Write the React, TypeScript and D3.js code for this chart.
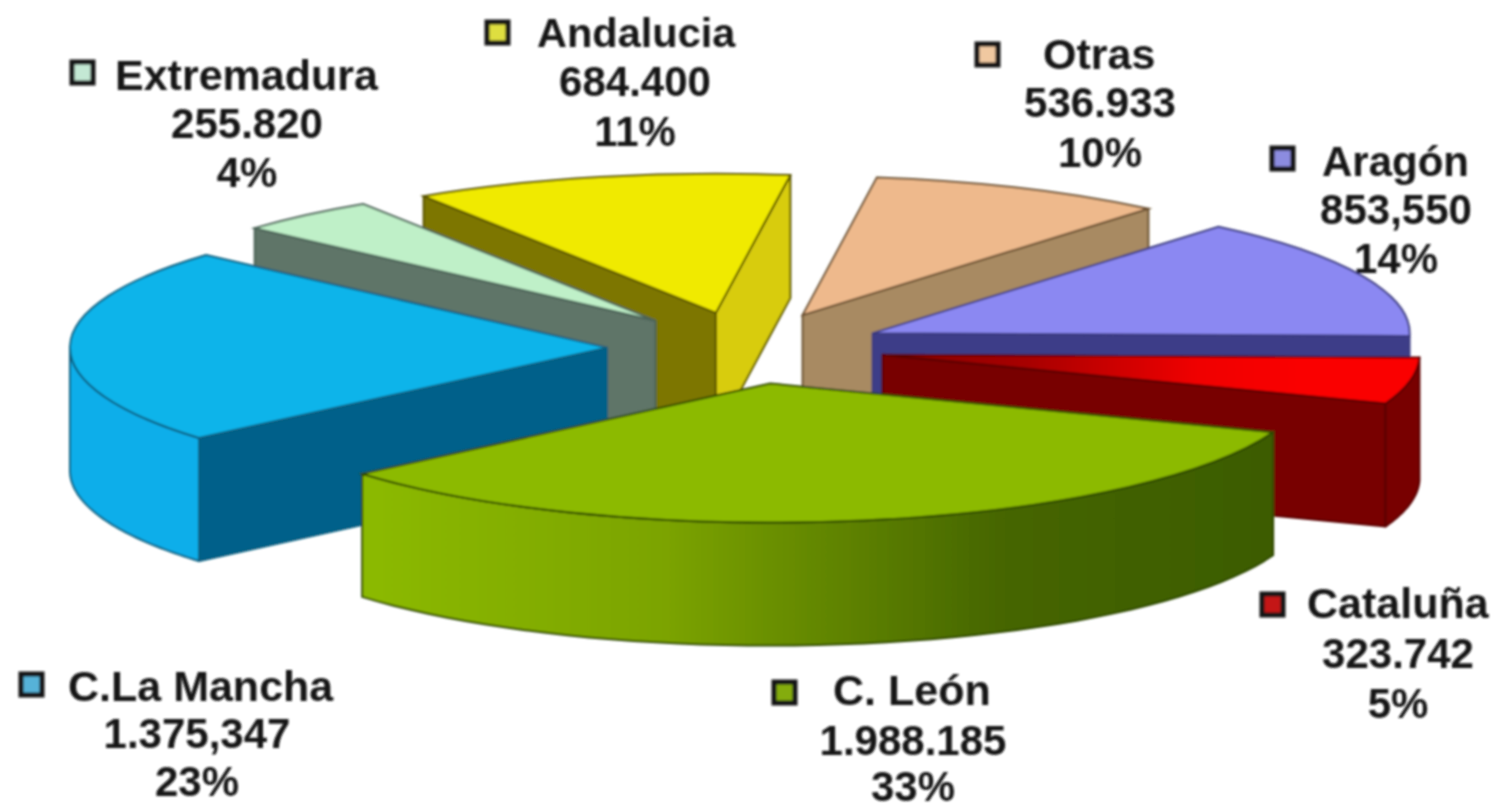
import React from 'react';
import * as d3 from 'd3';

// order runs clockwise from 3 o'clock, same as the pie
const regions = ['Cataluña', 'C. León', 'C.La Mancha', 'Extremadura', 'Andalucia', 'Otras', 'Aragón'];
const values = [323742, 1988185, 1375347, 255820, 684400, 536933, 853550];
const valueLabels = ['323.742', '1.988.185', '1.375,347', '255.820', '684.400', '536.933', '853,550'];
const percentLabels = ['5%', '33%', '23%', '4%', '11%', '10%', '14%'];

const topColors = ['url(#cataTop)', '#8cba00', '#08b4ea', '#bff0c8', '#f0ea00', '#eeb98c', '#8b88f2'];
const rimColors = ['#780000', 'url(#leonRim)', '#10aeea', '#5f7468', '#d8cc10', '#a88a62', '#3c3c88'];
const sideColors = ['#780000', '#4a6a00', '#04618a', '#5f7468', '#7d7600', '#a88a62', '#3c3c88'];
const edgeColors = ['#5a0000', '#2f4a00', '#0a5f80', '#4c6458', '#5a5400', '#6a5030', '#3a3a80'];
const keyColors = ['#c41818', '#84ac10', '#56b2d8', '#c4e8d4', '#dede40', '#f0c8a0', '#8c8ce0'];

// painter's order, back to front
const drawOrder = [5, 4, 6, 3, 0, 2, 1];

const labelLayout = [
  { key: [1260, 592], name: [1307, 618], size: 43, mid: 1398, lines: [668, 718] },
  { key: [772, 680], name: [833, 705], size: 43, mid: 913, lines: [755, 801] },
  { key: [19, 672], name: [68, 701], size: 43, mid: 197, lines: [748, 796] },
  { key: [70, 60], name: [115, 90], size: 43, mid: 247, lines: [138, 187] },
  { key: [485, 20], name: [537, 47], size: 41.5, mid: 635, lines: [96, 146] },
  { key: [975, 42], name: [1043, 69], size: 43, mid: 1100, lines: [117, 167] },
  { key: [1270, 146], name: [1322, 176], size: 42, mid: 1396, lines: [224, 273] },
];

const width = 1494;
const height = 804;
const cx = 746;
const cy = 348;
const rx = 537;
const tilt = 0.259;
const depth = 123;
const explode = 139;
const turn = 0.02; // the pie sits a touch past 3 o'clock

const x = d3.scaleLinear().domain([-1, 1]).range([-rx, rx]);
const y = d3.scaleLinear().domain([-1, 1]).range([rx * tilt, -rx * tilt]);

const pie = d3.pie<number>().sort(null).startAngle(Math.PI / 2 + turn).endAngle(Math.PI * 2.5 + turn);
const arc = d3.arc<d3.PieArcDatum<number>>().innerRadius(0).outerRadius(rx);
const line = d3.line<[number, number]>().curve(d3.curveLinear);

// d3 angle (cw from 12) to ground direction
const dir = (a: number): [number, number] => [Math.sin(a), Math.cos(a)];

function Slice({ d, i }: { d: d3.PieArcDatum<number>; i: number }) {
  const mid = (d.startAngle + d.endAngle) / 2;
  const [mx, my] = dir(mid);
  const ox = cx + (x(mx) * explode) / rx;
  const oy = cy + (y(my) * explode) / rx;
  const rim = (a: number, down = 0): [number, number] => [ox + x(dir(a)[0]), oy + y(dir(a)[1]) + down];
  const edge = { stroke: edgeColors[i], strokeWidth: 2, strokeLinejoin: 'round' as const };

  // a radial wall shows only when its face turns towards the viewer
  const walls: [number, boolean][] = [
    [d.startAngle, Math.sin(d.startAngle) < 0],
    [d.endAngle, Math.sin(d.endAngle) > 0],
  ];
  const sides: React.ReactNode[] = [];
  walls.forEach(([a, show], w) => {
    if (!show) return;
    sides.push(
      <path
        key={w}
        d={line([[ox, oy], rim(a), rim(a, depth), [ox, oy + depth]]) + 'Z'}
        fill={i === 4 && w === 1 ? rimColors[i] : sideColors[i]}
        {...edge}
      />
    );
  });

  // outer wall: only the part below the horizontal axis of the ellipse
  const from = Math.max(d.startAngle, Math.PI / 2);
  const to = Math.min(d.endAngle, (Math.PI * 3) / 2);
  const angles = from < to ? d3.range(0, 49).map((k) => from + ((to - from) * k) / 48) : [];
  const rimPath =
    angles.length > 0
      ? line([...angles.map((a) => rim(a)), ...angles.slice().reverse().map((a) => rim(a, depth))]) + 'Z'
      : null;

  return (
    <g>
      {sides}
      {rimPath && <path d={rimPath} fill={rimColors[i]} {...edge} />}
      <path
        d={arc(d) as string}
        transform={`translate(${ox},${oy}) scale(1,${tilt})`}
        fill={topColors[i]}
        stroke={edgeColors[i]}
        strokeWidth={2}
        vectorEffect="non-scaling-stroke"
      />
    </g>
  );
}

export default function App() {
  const slices = pie(values);
  return (
    <svg
      width={width}
      height={height}
      viewBox={`0 0 ${width} ${height}`}
      style={{ position: 'absolute', left: 0, top: 0, display: 'block', background: '#fff' }}
    >
      <defs>
        <linearGradient id="leonRim" gradientUnits="userSpaceOnUse" x1={360} x2={1272} y1={0} y2={0}>
          <stop offset="0" stopColor="#8cba00" />
          <stop offset="0.33" stopColor="#7ca400" />
          <stop offset="0.7" stopColor="#466600" />
          <stop offset="1" stopColor="#3c5c00" />
        </linearGradient>
        {/* sits in the slice's own translated, flattened space */}
        <linearGradient id="cataTop" gradientUnits="userSpaceOnUse" x1={0} x2={420} y1={0} y2={0}>
          <stop offset="0" stopColor="#860000" />
          <stop offset="0.35" stopColor="#a80000" />
          <stop offset="0.75" stopColor="#f00000" />
          <stop offset="1" stopColor="#fa0000" />
        </linearGradient>
        <filter id="soft" x="-2%" y="-2%" width="104%" height="104%">
          <feGaussianBlur stdDeviation="0.8" />
        </filter>
      </defs>
      <g filter="url(#soft)">
        {drawOrder.map((i) => (
          <Slice key={regions[i]} d={slices[i]} i={i} />
        ))}
        <g fontFamily="'Liberation Sans', Arial, sans-serif" fontWeight="700" fontSize={42} fill="#141414">
          {regions.map((r, i) => {
            const l = labelLayout[i];
            return (
              <g key={r}>
                <rect x={l.key[0] + 2} y={l.key[1] + 2} width={21} height={21} fill={keyColors[i]} stroke="#141414" strokeWidth={5} />
                <text x={l.name[0]} y={l.name[1]} fontSize={l.size}>{r}</text>
                <text x={l.mid} y={l.lines[0]} textAnchor="middle">{valueLabels[i]}</text>
                <text x={l.mid} y={l.lines[1]} textAnchor="middle">{percentLabels[i]}</text>
              </g>
            );
          })}
        </g>
      </g>
    </svg>
  );
}
